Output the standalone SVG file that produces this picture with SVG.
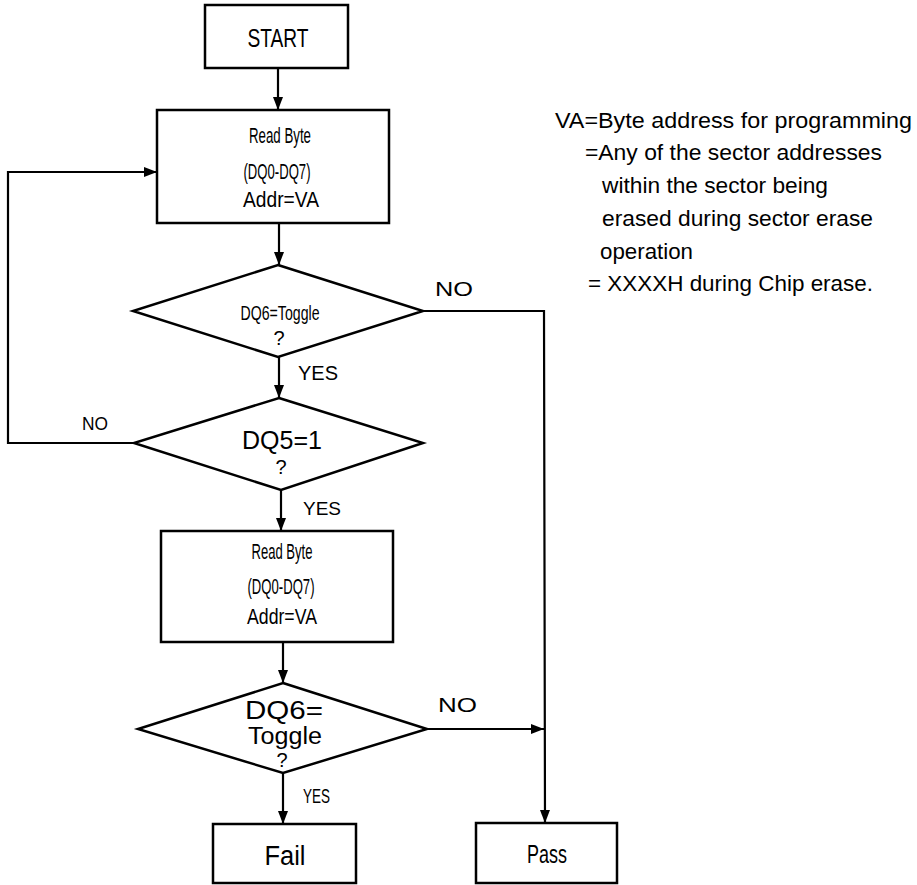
<svg xmlns="http://www.w3.org/2000/svg" width="917" height="885" viewBox="0 0 917 885">
<style>
.box{fill:#fff;stroke:#000;stroke-width:2.5}
.ln{fill:none;stroke:#000;stroke-width:2.2}
text{font-family:"Liberation Sans",Arial,sans-serif;fill:#000}
.c{text-anchor:middle}
</style>
<defs>
<marker id="ah" markerUnits="userSpaceOnUse" markerWidth="14" markerHeight="12" refX="13" refY="5" orient="auto">
<path d="M0,0 L13,5 L0,10 Z" fill="#000"/>
</marker>
</defs>
<rect width="917" height="885" fill="#fff"/>
<g id="connectors">
<line class="ln" x1="278" y1="68" x2="278" y2="110" marker-end="url(#ah)"/>
<line class="ln" x1="279" y1="223" x2="279" y2="265" marker-end="url(#ah)"/>
<line class="ln" x1="279" y1="357" x2="279" y2="398" marker-end="url(#ah)"/>
<polyline class="ln" points="423,311 544,311 545,823" marker-end="url(#ah)"/>
<polyline class="ln" points="134,443 8,443 8,172 157,172" marker-end="url(#ah)"/>
<line class="ln" x1="281" y1="490" x2="281" y2="531" marker-end="url(#ah)"/>
<line class="ln" x1="283" y1="642" x2="283" y2="683" marker-end="url(#ah)"/>
<line class="ln" x1="427" y1="729" x2="544" y2="729" marker-end="url(#ah)"/>
<line class="ln" x1="283" y1="773" x2="283" y2="824" marker-end="url(#ah)"/>
<text x="298" y="380" font-size="20">YES</text>
<text x="303" y="515" font-size="19">YES</text>
<text x="303" y="803" font-size="21" textLength="27" lengthAdjust="spacingAndGlyphs">YES</text>
<text x="435" y="296" font-size="20" textLength="38" lengthAdjust="spacingAndGlyphs">NO</text>
<text x="82" y="430" font-size="19" textLength="26" lengthAdjust="spacingAndGlyphs">NO</text>
<text x="438" y="712" font-size="20" textLength="39" lengthAdjust="spacingAndGlyphs">NO</text>
</g>
<g id="start">
<rect class="box" x="205" y="5" width="143" height="63"/>
<text class="c" x="278" y="47" font-size="25" textLength="61" lengthAdjust="spacingAndGlyphs">START</text>
</g>
<g id="read1">
<rect class="box" x="157" y="110" width="232" height="113"/>
<text class="c" x="280" y="143" font-size="22" textLength="62" lengthAdjust="spacingAndGlyphs">Read Byte</text>
<text class="c" x="277" y="179" font-size="22" textLength="67" lengthAdjust="spacingAndGlyphs">(DQ0-DQ7)</text>
<text class="c" x="281" y="207" font-size="22" textLength="76" lengthAdjust="spacingAndGlyphs">Addr=VA</text>
</g>
<g id="dec1">
<polygon class="box" points="278,265 423,311 278,357 133,311"/>
<text class="c" x="280" y="320" font-size="21" textLength="79" lengthAdjust="spacingAndGlyphs">DQ6=Toggle</text>
<text class="c" x="279" y="345" font-size="20">?</text>
</g>
<g id="dec2">
<polygon class="box" points="279,398 423,443 281,490 134,443"/>
<text class="c" x="282" y="449" font-size="25" textLength="80" lengthAdjust="spacingAndGlyphs">DQ5=1</text>
<text class="c" x="281" y="474" font-size="20">?</text>
</g>
<g id="read2">
<rect class="box" x="161" y="531" width="232" height="111"/>
<text class="c" x="282" y="559" font-size="22" textLength="61" lengthAdjust="spacingAndGlyphs">Read Byte</text>
<text class="c" x="281" y="594" font-size="22" textLength="67" lengthAdjust="spacingAndGlyphs">(DQ0-DQ7)</text>
<text class="c" x="282" y="624" font-size="22" textLength="70" lengthAdjust="spacingAndGlyphs">Addr=VA</text>
</g>
<g id="dec3">
<polygon class="box" points="283,683 427,729 283,773 138,729"/>
<text class="c" x="284" y="719" font-size="25" textLength="78" lengthAdjust="spacingAndGlyphs">DQ6=</text>
<text class="c" x="285" y="744" font-size="23" textLength="74" lengthAdjust="spacingAndGlyphs">Toggle</text>
<text class="c" x="282" y="767" font-size="20">?</text>
</g>
<g id="fail">
<rect class="box" x="213" y="824" width="143" height="59"/>
<text class="c" x="285" y="865" font-size="27" textLength="41" lengthAdjust="spacingAndGlyphs">Fail</text>
</g>
<g id="pass">
<rect class="box" x="476" y="823" width="141" height="60"/>
<text class="c" x="547" y="863" font-size="26" textLength="40" lengthAdjust="spacingAndGlyphs">Pass</text>
</g>
<g id="note" font-size="22">
<text x="555" y="128" textLength="357" lengthAdjust="spacingAndGlyphs">VA=Byte address for programming</text>
<text x="585" y="160" textLength="297" lengthAdjust="spacingAndGlyphs">=Any of the sector addresses</text>
<text x="602" y="193" textLength="226" lengthAdjust="spacingAndGlyphs">within the sector being</text>
<text x="602" y="226" textLength="271" lengthAdjust="spacingAndGlyphs">erased during sector erase</text>
<text x="600" y="259" textLength="93" lengthAdjust="spacingAndGlyphs">operation</text>
<text x="588" y="291" textLength="285" lengthAdjust="spacingAndGlyphs">= XXXXH during Chip erase.</text>
</g>
</svg>
